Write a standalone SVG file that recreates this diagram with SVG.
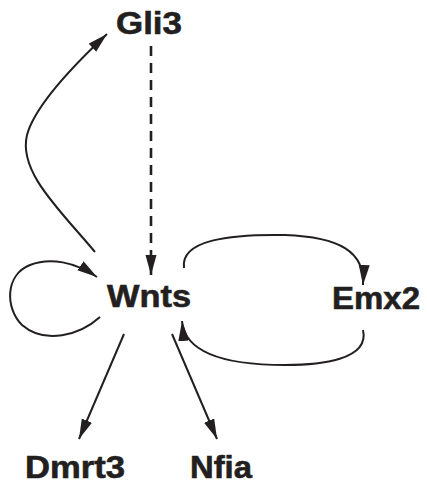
<svg xmlns="http://www.w3.org/2000/svg" width="427" height="487" viewBox="0 0 427 487">
<style>
.lbl{font-family:"Liberation Sans",Arial,sans-serif;font-weight:bold;font-size:31px;fill:#231f20;stroke:#231f20;stroke-width:0.6}
.edge{fill:none;stroke:#231f20;stroke-width:2;marker-end:url(#ah)}
.dash{stroke-width:2.6;stroke-dasharray:10 7}
</style>
<defs>
<marker id="ah" markerUnits="userSpaceOnUse" markerWidth="22" markerHeight="12" refX="20" refY="5.5" orient="auto">
<path d="M0,0 L20,5.5 L0,11 Z" fill="#231f20"/>
</marker>
</defs>
<rect width="427" height="487" fill="#fff"/>
<g id="connectors">
<path class="edge dash" d="M151,46 L151,275"/>
<path class="edge" d="M95,252 C60,210 18,172 27,135 C35,105 75,64 107,34"/>
<path class="edge" d="M100,317 C80,335 45,345 22,325 C5,308 5,275 30,265 C50,257 75,262 97,277"/>
<path class="edge" d="M184,268 C180,240 230,234 285,235 C340,237 365,252 363,285"/>
<path class="edge" d="M363,330 C370,360 320,365 285,365 C230,365 185,355 182,321"/>
<path class="edge" d="M124,334 L79,439"/>
<path class="edge" d="M172,334 L217,439"/>
</g>
<g id="Gli3"><text class="lbl" x="116" y="34" textLength="66" lengthAdjust="spacingAndGlyphs">Gli3</text></g>
<g id="Wnts"><text class="lbl" x="107" y="307" textLength="84" lengthAdjust="spacingAndGlyphs">Wnts</text></g>
<g id="Emx2"><text class="lbl" x="332" y="309" textLength="88" lengthAdjust="spacingAndGlyphs">Emx2</text></g>
<g id="Dmrt3"><text class="lbl" x="25" y="478" textLength="100" lengthAdjust="spacingAndGlyphs">Dmrt3</text></g>
<g id="Nfia"><text class="lbl" x="190" y="478" textLength="62" lengthAdjust="spacingAndGlyphs">Nfia</text></g>
</svg>
